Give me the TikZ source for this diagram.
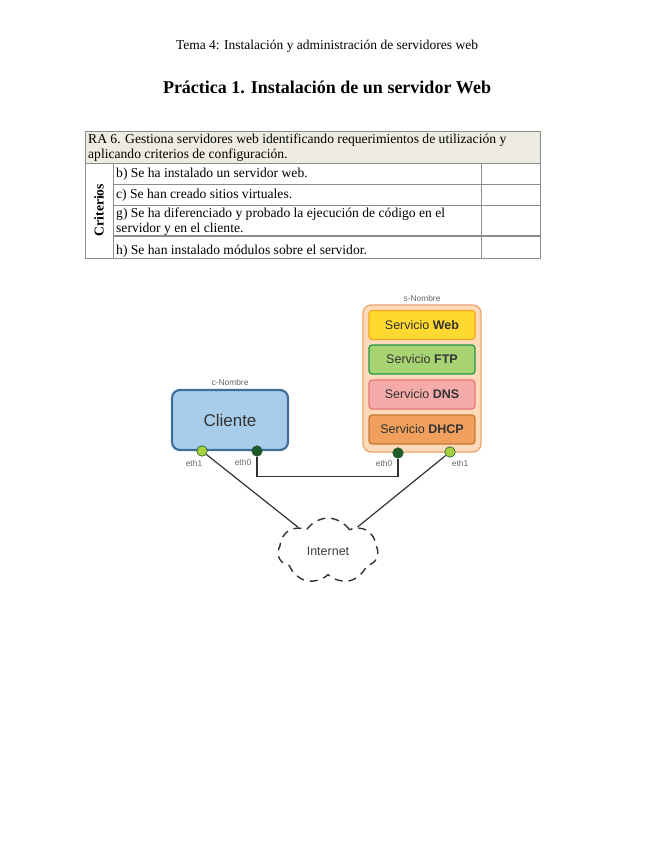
\documentclass[tikz,border=0pt]{standalone}
\usepackage{fontspec}
\setmainfont{Liberation Serif}
\newfontfamily\diagfont{Liberation Sans}
\usetikzlibrary{shapes.symbols}
\definecolor{tablegray}{HTML}{EEECE1}
\definecolor{rulegray}{HTML}{8C8C8C}
\definecolor{cliefill}{HTML}{A8CDEA}
\definecolor{clieedge}{HTML}{3F6E98}
\definecolor{servfill}{HTML}{FDDBBA}
\definecolor{servedge}{HTML}{E9A46C}
\definecolor{webfill}{HTML}{FFD830}
\definecolor{webedge}{HTML}{F5A623}
\definecolor{ftpfill}{HTML}{A8D373}
\definecolor{ftpedge}{HTML}{1F9A48}
\definecolor{dnsfill}{HTML}{F5ABAA}
\definecolor{dnsedge}{HTML}{E8777A}
\definecolor{dhcpfill}{HTML}{F0A05C}
\definecolor{dhcpedge}{HTML}{C47A35}
\definecolor{portlight}{HTML}{A6D03C}
\definecolor{portdark}{HTML}{1E5A2A}
\definecolor{wiregray}{HTML}{333333}
\begin{document}
\begin{tikzpicture}[x=1pt,y=-1pt,
    cell/.style={anchor=west,inner sep=0pt,font=\fontsize{13.6}{15}\selectfont},
    srv/.style={draw,line width=1.2pt,rounded corners=3pt,minimum width=106pt,minimum height=29pt,inner sep=0pt,text=black!80,font=\diagfont\fontsize{12.5}{14}\selectfont},
    port/.style={circle,draw=portdark,line width=0.6pt,minimum size=10.5pt,inner sep=0pt},
    tag/.style={inner sep=1pt,text=black!60,font=\diagfont\fontsize{8.4}{9}\selectfont},
    wire/.style={draw=wiregray,line width=1.2pt}]
    \useasboundingbox (0,0) rectangle (655,848);

    % cabecera
    \node[font=\fontsize{13.5}{16}\selectfont] (tema) at (327,46) {Tema 4: Instalación y administración de servidores web};
    \node[font=\bfseries\fontsize{18}{21}\selectfont] (titulo) at (327,87) {Práctica 1. Instalación de un servidor Web};

    % tabla de criterios
    \fill[tablegray] (85,131) rectangle (540,163);
    \draw[rulegray,line width=0.7pt] (85,131) rectangle (540,258);
    \draw[rulegray,line width=0.7pt] (85,163) -- (540,163);
    \draw[rulegray,line width=0.7pt] (113,163) -- (113,258);
    \draw[rulegray,line width=0.7pt] (481,163) -- (481,258);
    \foreach \y in {184,205}
        \draw[rulegray,line width=0.7pt] (113,\y) -- (540,\y);
    \draw[rulegray,line width=1.2pt] (113,236) -- (540,236);

    \node[cell] (ra1) at (88,140) {RA 6. Gestiona servidores web identificando requerimientos de utilización y};
    \node[cell] (ra2) at (88,155) {aplicando criterios de configuración.};
    \node[cell] (crb) at (116,174) {b) Se ha instalado un servidor web.};
    \node[cell] (crc) at (116,195) {c) Se han creado sitios virtuales.};
    \node[cell] (crg1) at (116,214) {g) Se ha diferenciado y probado la ejecución de código en el};
    \node[cell] (crg2) at (116,229) {servidor y en el cliente.};
    \node[cell] (crh) at (116,251) {h) Se han instalado módulos sobre el servidor.};
    \node[rotate=90,inner sep=0pt,font=\bfseries\fontsize{13.6}{15}\selectfont] (crit) at (99,210) {Criterios};

    % servidor
    \node[draw=servedge,fill=servfill,line width=1.2pt,rounded corners=8pt,minimum width=118pt,minimum height=147pt] (servidor) at (422,378.5) {};
    \node[tag,above=2pt] (snombre) at (servidor.north) {s-Nombre};
    \node[srv,draw=webedge,fill=webfill] (web) at (422,325) {Servicio \textbf{Web}};
    \node[srv,draw=ftpedge,fill=ftpfill] (ftp) at (422,359.5) {Servicio \textbf{FTP}};
    \node[srv,draw=dnsedge,fill=dnsfill] (dns) at (422,394.5) {Servicio \textbf{DNS}};
    \node[srv,draw=dhcpedge,fill=dhcpfill] (dhcp) at (422,429.5) {Servicio \textbf{DHCP}};

    % cliente
    \node[draw=clieedge,fill=cliefill,line width=2.2pt,rounded corners=8pt,minimum width=116pt,minimum height=60pt,text=black!80,font=\diagfont\fontsize{17}{20}\selectfont] (cliente) at (230,420) {Cliente};
    \node[tag,above=2pt] (cnombre) at (cliente.north) {c-Nombre};

    % internet
    \node[cloud,cloud puffs=7,cloud puff arc=115,aspect=1.5,draw=wiregray,line width=1.4pt,dash pattern=on 8pt off 6pt,fill=white,minimum width=100pt,minimum height=66pt,text=black!75,font=\diagfont\fontsize{12.5}{14}\selectfont] (internet) at (328,551) {Internet};

    % interfaces
    \node[port,fill=portlight] (c1) at (202,451) {};
    \node[port,fill=portdark] (c0) at (257,451) {};
    \node[port,fill=portdark] (s0) at (398,453) {};
    \node[port,fill=portlight] (s1) at (450,452) {};
    \node[tag] (c1lbl) at (194,463) {eth1};
    \node[tag] (c0lbl) at (243,462) {eth0};
    \node[tag] (s0lbl) at (384,463) {eth0};
    \node[tag] (s1lbl) at (460,463) {eth1};

    % conexiones
    \draw[wire] (c0.south) -- ++(0,20) -| (s0.south);
    \draw[wire] (c1) -- (internet);
    \draw[wire] (s1) -- (internet);
\end{tikzpicture}
\end{document}
